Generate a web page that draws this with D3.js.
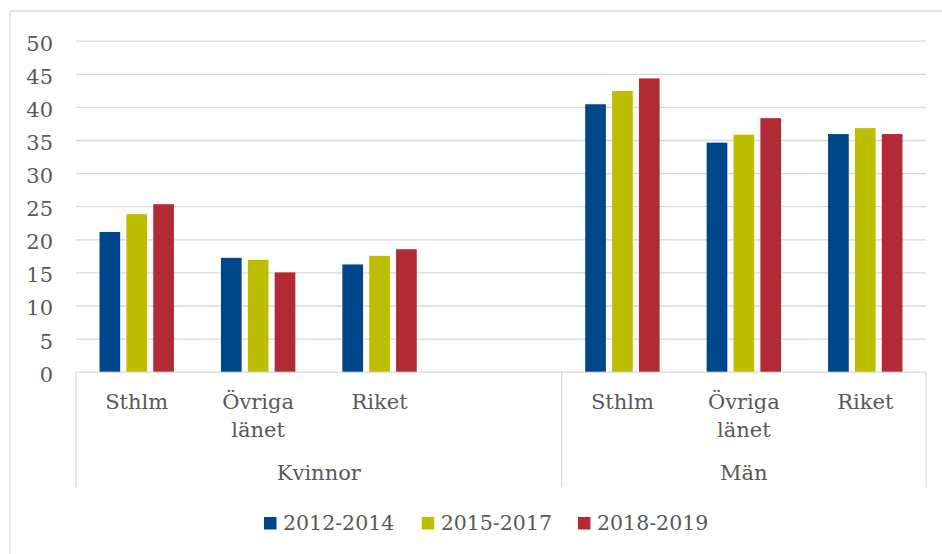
<!DOCTYPE html>
<html>
<head>
<meta charset="utf-8">
<script src="https://cdn.jsdelivr.net/npm/d3@7"></script>
<style>
  body { margin: 0; background: #fff; }
  svg { display: block; font-family: "DejaVu Serif", serif; }
</style>
</head>
<body>
<svg id="chart" width="942" height="554"></svg>
<script>
// data
const categories = ["Sthlm", "Övriga länet", "Riket", "", "Sthlm", "Övriga länet", "Riket"];
const groups = ["Kvinnor", "Kvinnor", "Kvinnor", "Kvinnor", "Män", "Män", "Män"];
const seriesNames = ["2012-2014", "2015-2017", "2018-2019"];
const values2012 = [21.1, 17.2, 16.2, null, 40.4, 34.6, 35.9];
const values2015 = [23.8, 16.9, 17.5, null, 42.4, 35.8, 36.8];
const values2018 = [25.3, 15.0, 18.5, null, 44.3, 38.3, 35.9];
const yTicks = [0, 5, 10, 15, 20, 25, 30, 35, 40, 45, 50];
const colors = ["#00468b", "#bebe00", "#b22a33"];

const seriesValues = [values2012, values2015, values2018];

const svg = d3.select("#chart");
const plotLeft = 76, plotRight = 926, plotTop = 40.7, plotBottom = 371.7;
const textColor = "#595959";
const lineColor = "#d9d9d9";
const fontSize = 21;

// outer frame (top + left visible)
svg.append("line").attr("x1", 10).attr("x2", 942).attr("y1", 11).attr("y2", 11)
    .attr("stroke", lineColor).attr("stroke-width", 1.3);
svg.append("line").attr("x1", 10).attr("x2", 10).attr("y1", 11).attr("y2", 554)
    .attr("stroke", lineColor).attr("stroke-width", 1.3);

const slots = d3.range(categories.length);

const x = d3.scaleBand()
    .domain(slots)
    .range([plotLeft, plotRight])
    .paddingInner(0)
    .paddingOuter(0);

const y = d3.scaleLinear()
    .domain([0, 50])
    .range([plotBottom, plotTop]);

// bars inside each slot
const groupPad = 23.5;
const xSub = d3.scaleBand()
    .domain(d3.range(seriesNames.length))
    .range([groupPad, x.bandwidth() - groupPad])
    .paddingInner(0.23)
    .paddingOuter(0);

// y axis + gridlines
const yAxis = svg.append("g")
    .attr("transform", `translate(${plotLeft},0)`)
    .call(d3.axisLeft(y).tickValues(yTicks).tickSize(-(plotRight - plotLeft)).tickPadding(23));

yAxis.select(".domain").remove();
yAxis.selectAll(".tick line")
    .attr("stroke", lineColor)
    .attr("stroke-width", 1.3);
yAxis.selectAll(".tick text")
    .attr("fill", textColor)
    .attr("font-size", fontSize)
    .attr("font-family", "DejaVu Serif")
    .attr("dy", "0.45em");

// bars
const barData = [];
slots.forEach(i => {
    seriesValues.forEach((vals, s) => {
        if (vals[i] != null) barData.push({ slot: i, s: s, v: vals[i] });
    });
});

svg.append("g")
    .selectAll(".bar")
    .data(barData)
    .enter()
    .append("rect")
    .attr("class", "bar")
    .attr("x", d => x(d.slot) + xSub(d.s))
    .attr("y", d => y(d.v))
    .attr("width", xSub.bandwidth())
    .attr("height", d => y(0) - y(d.v))
    .style("fill", d => colors[d.s]);

// category axis: separators
const groupNames = Array.from(new Set(groups));
const groupBounds = groupNames.map(g => {
    const idx = slots.filter(i => groups[i] === g);
    return { name: g, x0: x(idx[0]), x1: x(idx[idx.length - 1]) + x.bandwidth() };
});
const sepXs = [groupBounds[0].x0].concat(groupBounds.map(g => g.x1));

svg.append("g")
    .selectAll("line")
    .data(sepXs)
    .enter()
    .append("line")
    .attr("x1", d => d).attr("x2", d => d)
    .attr("y1", plotBottom).attr("y2", 487)
    .attr("stroke", lineColor)
    .attr("stroke-width", 1.3);

// category labels (wrapped)
const catLabels = svg.append("g")
    .selectAll("text")
    .data(slots.filter(i => categories[i] !== ""))
    .enter()
    .append("text")
    .attr("text-anchor", "middle")
    .attr("fill", textColor)
    .attr("font-size", fontSize)
    .attr("x", i => x(i) + x.bandwidth() / 2)
    .attr("y", 409);

catLabels.each(function (i) {
    const words = categories[i].split(" ");
    d3.select(this).selectAll("tspan")
        .data(words)
        .enter()
        .append("tspan")
        .attr("x", x(i) + x.bandwidth() / 2)
        .attr("dy", (w, k) => k === 0 ? 0 : 28)
        .text(w => w);
});

// group labels
svg.append("g")
    .selectAll("text")
    .data(groupBounds)
    .enter()
    .append("text")
    .attr("text-anchor", "middle")
    .attr("fill", textColor)
    .attr("font-size", fontSize)
    .attr("x", d => (d.x0 + d.x1) / 2)
    .attr("y", 480)
    .text(d => d.name);

// legend
const legendX = [264, 421.7, 578];
const legend = svg.append("g")
    .selectAll("g")
    .data(seriesNames)
    .enter()
    .append("g")
    .attr("transform", (d, i) => `translate(${legendX[i]},517)`);

legend.append("rect")
    .attr("width", 12.5)
    .attr("height", 12.5)
    .style("fill", (d, i) => colors[i]);

legend.append("text")
    .attr("x", 19)
    .attr("y", 13)
    .attr("fill", textColor)
    .attr("font-size", 20.5)
    .text(d => d);
</script>
</body>
</html>
